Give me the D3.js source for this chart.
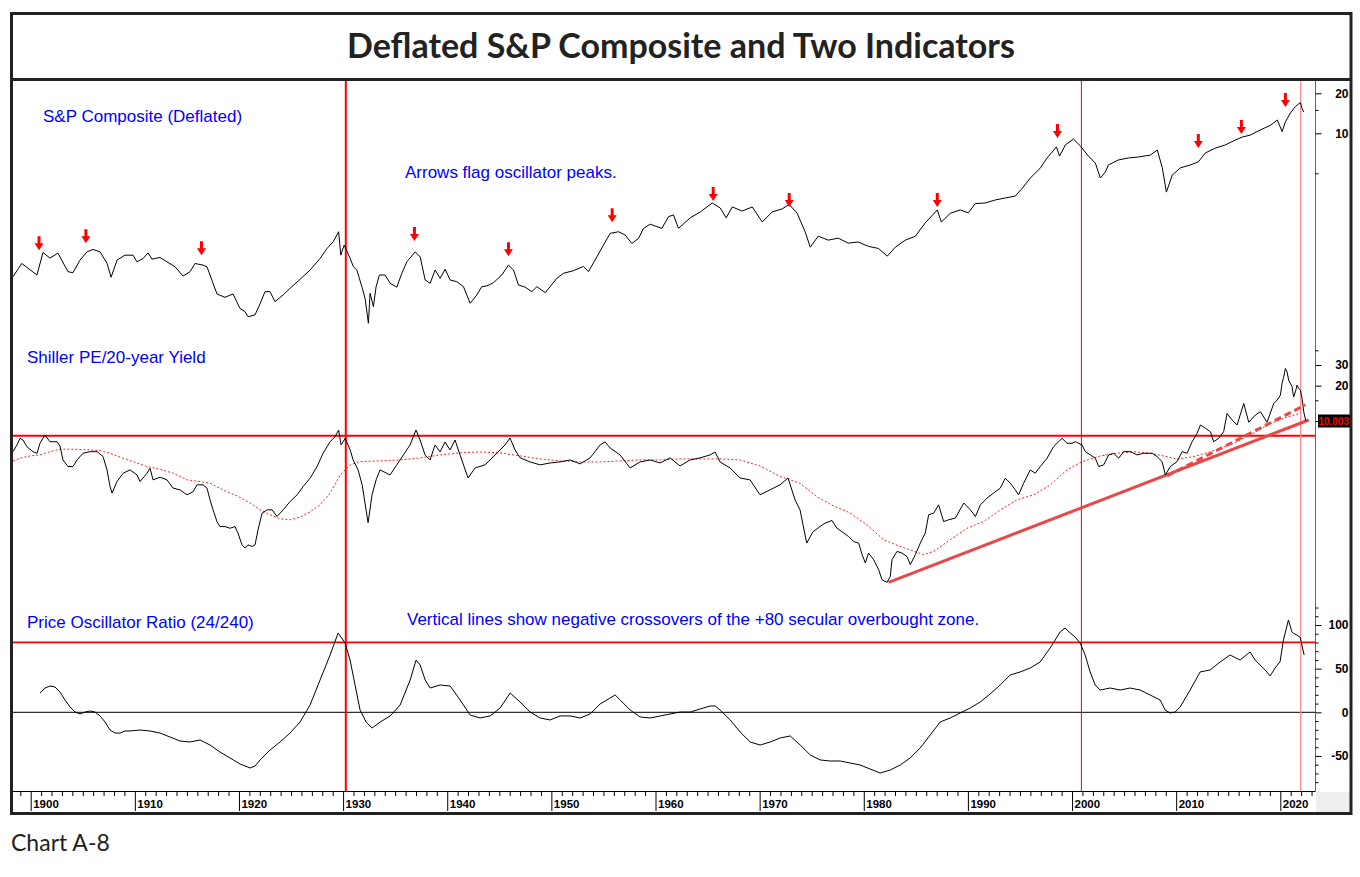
<!DOCTYPE html>
<html>
<head>
<meta charset="utf-8">
<script src="https://cdn.jsdelivr.net/npm/d3@7/dist/d3.min.js"></script>
<style>
body { margin: 0; background: #fff; }
svg { display: block; }
</style>
</head>
<body>
<svg></svg>
<script>
// S&P Composite (deflated), верхняя панель
const spxYears = [1898.3,1899.14,1900.6,1901.18,1901.85,1902.62,1903.58,1904.06,1904.73,1905.41,1905.98,1906.66,1907.33,1907.72,1908.29,1909.06,1909.83,1910.21,1910.79,1911.27,1911.65,1912.42,1913.09,1913.86,1914.63,1915.3,1915.78,1916.55,1916.93,1917.51,1917.89,1918.66,1919.43,1920.1,1920.58,1920.87,1921.54,1922.02,1922.5,1922.98,1923.46,1924.24,1924.91,1925.87,1926.83,1927.79,1928.46,1929.04,1929.57,1929.78,1930.1,1930.68,1930.99,1931.32,1931.8,1932.11,1932.43,1932.59,1932.91,1933.17,1933.49,1934.03,1934.52,1935.16,1935.64,1936.12,1936.92,1937.4,1937.88,1938.36,1938.84,1939.32,1939.8,1940.28,1940.92,1941.56,1942.2,1942.84,1943.32,1943.8,1944.44,1945.24,1945.88,1946.36,1946.84,1947.48,1948.13,1948.61,1949.41,1949.88,1950.53,1951.16,1952.12,1953.08,1953.56,1954.37,1955.0,1955.65,1956.45,1957.09,1957.73,1958.37,1958.85,1959.49,1960.13,1960.61,1961.25,1961.73,1962.21,1963.34,1964.3,1965.45,1966.22,1966.79,1967.37,1968.33,1969.29,1970.25,1971.21,1972.17,1972.84,1973.61,1974.38,1974.86,1975.63,1976.59,1977.55,1978.51,1979.47,1980.44,1981.4,1982.26,1983.03,1983.99,1984.95,1985.91,1987.06,1987.45,1988.31,1989.27,1990.04,1990.71,1991.67,1992.63,1993.59,1994.55,1995.23,1996.0,1996.96,1997.6,1998.1,1998.5,1998.8,1999.36,2000.13,2000.8,2001.57,2002.24,2002.72,2003.2,2003.49,2004.45,2005.41,2006.37,2007.52,2008.19,2008.67,2009.06,2009.63,2010.4,2011.36,2012.13,2012.8,2013.76,2014.72,2015.68,2016.36,2017.12,2018.08,2019.05,2019.72,2020.17,2020.49,2020.97,2021.45,2021.93,2022.09,2022.25];
const spxValues = [0.833,1.048,0.858,1.268,1.15,1.253,0.909,0.893,1.11,1.282,1.336,1.282,1.053,0.825,1.11,1.21,1.21,1.078,1.143,1.259,1.13,1.163,1.078,0.99,0.843,0.909,1.048,1.018,0.99,0.743,0.618,0.583,0.618,0.481,0.455,0.416,0.43,0.52,0.643,0.643,0.541,0.607,0.682,0.797,0.936,1.143,1.36,1.525,1.816,1.21,1.44,1.143,0.99,0.936,0.701,0.573,0.372,0.625,0.496,0.701,0.858,0.858,0.743,0.695,0.884,1.078,1.282,1.175,0.787,0.743,0.936,0.811,0.947,0.787,0.764,0.701,0.526,0.607,0.701,0.71,0.751,0.858,1.018,0.936,0.722,0.695,0.643,0.701,0.632,0.701,0.811,0.884,0.925,0.996,0.909,1.175,1.44,1.766,1.816,1.715,1.482,1.617,1.926,2.07,1.985,1.926,2.36,2.43,1.926,2.31,2.56,2.99,2.74,2.31,2.79,2.6,2.79,2.15,2.56,2.7,2.91,2.5,1.806,1.39,1.683,1.57,1.625,1.49,1.52,1.41,1.36,1.19,1.39,1.57,1.68,2.12,2.65,2.15,2.5,2.65,2.52,2.96,2.99,3.15,3.26,3.37,3.87,4.61,5.49,6.52,7.24,7.9,6.74,8.17,9.05,8.03,6.74,5.97,4.61,5.11,5.78,6.3,6.52,6.63,6.86,7.49,5.49,3.61,4.86,5.49,5.78,6.09,7.11,7.74,8.17,8.9,9.37,9.7,10.59,11.5,12.59,10.3,12.2,14.2,15.9,17.0,15.4,14.5];

// стрелки: пики осциллятора (кончик стрелки)
const arrowYears = [1900.8,1905.3,1916.4,1936.85,1945.88,1955.84,1965.54,1972.84,1987.06,1998.6,2012.13,2016.26,2020.49];
const arrowValues = [1.32,1.49,1.21,1.55,1.19,2.14,3.1,2.79,2.79,9.21,7.75,9.88,15.8];

// Shiller PE / 20-year yield, средняя панель
const peYears = [1898.3,1898.68,1898.97,1899.26,1899.64,1900.22,1900.61,1900.89,1901.37,1901.85,1902.53,1902.81,1903.1,1903.58,1904.06,1904.45,1905.02,1905.7,1906.37,1906.95,1907.33,1907.62,1907.81,1908.29,1908.87,1909.54,1910.21,1910.5,1911.17,1911.46,1911.75,1912.42,1913.09,1913.67,1914.34,1915.01,1915.59,1915.98,1916.55,1916.93,1917.22,1917.51,1917.89,1918.18,1918.66,1919.14,1919.62,1919.9,1920.29,1920.58,1920.87,1921.26,1921.54,1921.83,1922.22,1922.7,1923.18,1923.66,1924.24,1924.91,1925.58,1926.16,1926.83,1927.5,1928.08,1928.75,1929.23,1929.57,1929.81,1930.2,1930.68,1930.96,1931.44,1931.83,1932.4,1932.78,1933.17,1933.55,1934.51,1935.47,1936.43,1937.0,1937.39,1937.87,1938.35,1938.83,1939.31,1939.79,1940.27,1940.75,1941.23,1942.0,1942.67,1943.63,1944.59,1945.55,1946.03,1946.51,1947.0,1947.96,1948.92,1949.88,1950.84,1951.8,1952.76,1953.72,1954.68,1955.16,1955.64,1956.6,1957.56,1958.52,1959.48,1960.44,1961.4,1962.36,1963.32,1964.28,1965.24,1965.72,1966.2,1967.16,1968.12,1969.08,1970.04,1971.0,1971.96,1972.73,1973.4,1973.88,1974.52,1975.13,1975.8,1976.28,1976.95,1977.43,1977.91,1978.55,1979.03,1979.51,1979.84,1980.15,1980.46,1980.95,1981.43,1981.75,1982.23,1982.55,1982.71,1983.19,1983.67,1984.15,1984.47,1984.95,1985.43,1985.91,1986.23,1986.71,1987.19,1987.67,1988.15,1988.8,1989.6,1990.24,1990.72,1991.2,1991.83,1992.46,1993.11,1993.59,1994.07,1994.55,1994.87,1995.35,1995.99,1996.47,1996.95,1997.6,1998.23,1999.04,1999.52,2000.0,2000.32,2000.96,2001.28,2001.76,2002.24,2002.56,2003.04,2003.52,2004.0,2004.48,2004.96,2005.61,2006.25,2006.88,2007.69,2008.17,2008.65,2008.96,2009.44,2010.09,2010.57,2011.05,2011.53,2012.01,2012.33,2012.81,2013.29,2013.6,2014.08,2014.56,2014.89,2015.37,2015.85,2016.49,2016.97,2017.61,2018.09,2018.73,2019.37,2019.7,2020.01,2020.17,2020.33,2020.49,2020.65,2020.8,2021.13,2021.28,2021.45,2021.61,2021.76,2021.93,2022.09,2022.25,2022.45];
const peValues = [5.48,6.25,7.12,6.89,6.04,5.48,5.31,6.46,7.6,6.66,6.66,6.13,4.66,4.09,4.09,4.66,5.31,5.48,5.48,4.97,3.83,2.76,2.43,3.05,3.59,3.83,3.47,3.05,3.59,3.96,3.15,3.32,3.15,2.68,2.59,2.35,2.5,2.86,2.86,2.68,2.13,1.75,1.39,1.26,1.26,1.22,1.26,1.11,0.88,0.827,0.88,0.853,0.88,1.18,1.64,1.75,1.75,1.535,1.75,2.06,2.35,2.76,3.26,4.09,5.31,6.66,7.35,8.38,6.25,7.12,5.67,4.66,3.83,2.86,1.36,2.35,3.15,3.83,3.47,4.66,6.25,8.38,6.89,5.14,4.66,6.25,5.45,6.63,5.67,6.89,5.14,3.27,3.98,4.23,5.14,6.25,7.17,5.67,4.85,4.48,4.23,4.39,4.48,4.66,4.31,4.85,6.25,6.63,5.89,5.14,3.98,4.48,4.66,4.39,4.85,4.14,4.66,4.85,5.14,5.45,4.48,3.98,3.27,3.15,2.35,2.59,2.86,3.27,2.13,1.75,0.912,1.14,1.26,1.35,1.42,1.22,1.14,1.035,0.94,0.912,0.726,0.617,0.75,0.658,0.541,0.445,0.422,0.474,0.658,0.774,0.75,0.7,0.597,0.726,0.912,1.11,1.59,1.64,1.93,1.39,1.44,1.49,2.0,1.75,1.535,1.93,2.2,2.43,2.68,3.26,2.95,2.59,2.35,2.95,3.83,3.59,4.09,4.82,6.04,7.12,6.46,6.46,6.66,6.25,5.48,5.14,4.82,4.09,4.23,5.14,5.31,4.82,5.48,5.48,5.14,5.31,5.31,4.97,4.51,3.47,4.09,4.51,5.48,5.31,6.66,7.85,9.25,8.67,8.1,6.66,7.12,8.1,11.6,10.2,9.25,14.1,9.76,11.25,12.0,9.76,14.1,15.09,16.6,21.0,23.8,28.0,26.2,22.3,19.6,16.0,17.7,20.2,18.96,18.3,15.6,12.0,10.0];

// скользящая средняя (красный пунктир)
const maYears = [1898.3,1898.97,1899.93,1900.89,1901.85,1902.81,1904.06,1905.7,1906.66,1907.62,1908.58,1909.83,1911.17,1912.42,1913.67,1915.01,1916.26,1917.22,1918.47,1919.82,1921.07,1922.02,1922.98,1923.94,1924.91,1925.87,1926.83,1927.79,1928.75,1929.71,1930.68,1931.64,1933.56,1935.47,1937.39,1939.31,1941.23,1943.15,1945.08,1947.0,1948.92,1950.84,1952.76,1954.68,1956.6,1958.52,1960.44,1962.36,1964.28,1966.2,1968.12,1970.04,1971.96,1973.88,1975.48,1977.08,1978.68,1980.28,1981.9,1983.5,1985.74,1986.7,1988.3,1989.91,1991.5,1993.11,1994.71,1996.31,1997.92,1999.52,2000.96,2002.72,2004.33,2005.93,2007.52,2009.13,2010.09,2011.68,2013.29,2015.53,2017.13,2018.73,2020.33,2021.93];
const maValues = [4.57,4.82,5.04,5.14,5.48,5.75,5.75,5.67,5.59,5.31,4.92,4.51,4.09,3.88,3.59,3.15,3.05,2.95,2.59,2.3,2.0,1.75,1.59,1.47,1.44,1.515,1.69,1.93,2.43,3.47,4.23,4.51,4.57,4.66,4.85,5.14,5.35,5.45,5.35,5.04,4.75,4.57,4.48,4.48,4.57,4.66,4.66,4.75,4.75,4.75,4.66,4.14,3.37,2.95,2.27,1.89,1.65,1.31,0.973,0.853,0.726,0.774,0.973,1.22,1.39,1.75,2.13,2.35,2.86,3.83,4.51,5.04,5.31,5.48,5.31,4.97,4.73,4.97,5.48,6.46,7.6,9.25,10.55,11.63];

// линии тренда: [год, значение]
const trendSolid = [[1982.38, 0.4217], [2022.73, 10.2]];
const trendDashed = [[2009.13, 3.41], [2022.41, 13.7]];
const peLevel = 7.5;
const peLast = "10.003";

// Price Oscillator Ratio (24/240), нижняя панель
const oscYears = [1900.89,1901.37,1901.85,1902.33,1902.81,1903.29,1903.78,1904.26,1904.74,1905.22,1905.7,1906.18,1906.66,1907.14,1907.62,1908.1,1908.58,1909.06,1909.54,1910.5,1911.46,1912.42,1913.38,1914.34,1915.3,1916.26,1917.22,1918.18,1919.14,1920.1,1921.07,1921.55,1922.03,1922.99,1923.95,1924.91,1925.87,1926.83,1927.79,1928.75,1929.52,1930.19,1930.67,1931.15,1931.63,1932.21,1932.79,1933.56,1934.52,1935.48,1936.44,1937.01,1937.4,1937.88,1938.36,1939.32,1940.28,1941.24,1942.2,1943.16,1944.12,1945.08,1946.04,1947.0,1947.96,1948.92,1949.88,1950.84,1951.8,1952.76,1953.72,1954.68,1955.65,1956.13,1956.61,1957.57,1958.53,1959.49,1960.45,1961.41,1962.37,1963.33,1964.29,1965.25,1965.73,1966.21,1967.17,1968.13,1969.09,1970.05,1971.01,1971.98,1972.94,1973.9,1974.86,1975.82,1976.78,1977.74,1978.7,1979.66,1980.62,1981.58,1982.54,1983.5,1984.46,1985.42,1986.38,1987.34,1988.3,1989.26,1990.22,1991.18,1992.14,1993.1,1994.06,1995.02,1995.98,1996.94,1997.9,1998.86,1999.34,1999.82,2000.3,2000.78,2001.26,2001.74,2002.22,2002.7,2003.66,2004.62,2005.58,2006.54,2007.5,2008.46,2008.94,2009.42,2009.9,2010.38,2011.34,2012.3,2013.26,2014.22,2015.18,2016.14,2017.1,2017.58,2018.54,2019.02,2019.5,2019.98,2020.3,2020.78,2021.11,2021.26,2021.59,2021.91,2022.07,2022.29];
const oscValues = [22.1,27.8,30.1,29.0,23.3,14.1,6.1,0.3,-1.9,0.3,1.5,0.3,-4.2,-11.1,-20.3,-23.8,-23.8,-21.4,-21.4,-20.3,-21.4,-23.8,-28.3,-32.9,-34.0,-31.7,-37.5,-45.5,-52.3,-59.2,-63.8,-61.5,-54.6,-43.2,-34.0,-23.7,-11.1,8.4,37.0,65.6,90.8,79.4,59.9,31.3,2.6,-11.1,-18.0,-11.1,-4.2,8.4,37.0,59.9,54.2,37.0,27.8,31.3,30.1,14.1,-3.1,-6.5,-4.2,4.9,22.1,11.8,0.3,-6.5,-8.8,-4.2,-4.2,-6.5,-1.9,9.5,16.4,19.8,14.1,2.6,-5.4,-6.5,-4.2,-1.9,0.3,0.3,3.8,7.2,7.2,2.6,-8.8,-22.6,-34.0,-37.5,-34.0,-29.4,-27.1,-37.5,-48.9,-54.6,-55.8,-55.8,-58.1,-60.4,-65.0,-69.6,-66.1,-60.4,-52.3,-40.9,-26.0,-11.1,-6.5,-0.8,4.9,11.8,21.0,31.3,42.7,46.2,50.7,57.6,73.7,92.0,96.6,90.8,86.2,79.4,65.6,46.2,31.3,25.5,27.8,25.5,27.8,25.5,19.8,14.1,2.6,-0.8,0.3,6.1,25.5,46.2,48.5,57.6,65.6,59.9,69.1,59.9,48.5,41.6,50.7,58.0,82.8,105.7,92.3,90.5,88.5,85.9,77.1,65.6];
const oscLevel = 80;

// годы отрицательного пересечения +80
const crossYears = [1930.26, 2000.9, 2021.96];
const crossStyles = [{ c: "#ff0000", w: 2 }, { c: "#ee0000", w: 1 }, { c: "#ff8080", w: 1.2 }];

// подписи осей
const decadeLabels = [1900, 1910, 1920, 1930, 1940, 1950, 1960, 1970, 1980, 1990, 2000, 2010, 2020];
const topTicks = [5, 10, 15, 20];
const topLabels = [10, 20];
const midTicks = [10, 15, 20, 30, 40];
const midLabels = [20, 30];
const botTicks = [-80, -70, -60, -50, -40, -30, -20, -10, 0, 10, 20, 30, 40, 50, 60, 70, 80, 90, 100, 110, 120];
const botLabels = [-50, 0, 50, 100];

document.addEventListener("DOMContentLoaded", function() {
    const width = 1360;
    const height = 877;
    const svg = d3.select("svg")
        .attr("width", width)
        .attr("height", height);

    const left = 13, right = 1315, top = 81, bottom = 791;

    const x = d3.scaleLinear().domain([1900, 2020]).range([30.7, 1280.3]);
    const yTop = d3.scaleLog().domain([5, 20]).range([173.3, 93.3]);
    const yMid = d3.scaleLog().domain([10, 30]).range([421, 365]);
    const yBot = d3.scaleLinear().domain([0, 100]).range([712.3, 625]);

    svg.append("defs").append("clipPath").attr("id", "plot")
        .append("rect").attr("x", left).attr("y", top)
        .attr("width", right - left).attr("height", bottom - top);

    const plot = svg.append("g").attr("clip-path", "url(#plot)");

    // горизонтальные уровни
    plot.append("line").attr("x1", left).attr("x2", right)
        .attr("y1", yMid(peLevel)).attr("y2", yMid(peLevel))
        .attr("stroke", "#ff0000").attr("stroke-width", 2);
    plot.append("line").attr("x1", left).attr("x2", right)
        .attr("y1", yBot(oscLevel)).attr("y2", yBot(oscLevel))
        .attr("stroke", "#ff0000").attr("stroke-width", 1.8);
    plot.append("line").attr("x1", left).attr("x2", right)
        .attr("y1", yBot(0)).attr("y2", yBot(0))
        .attr("stroke", "#000").attr("stroke-width", 1);

    // вертикальные линии
    crossYears.forEach((yr, i) => {
        plot.append("line").attr("x1", x(yr)).attr("x2", x(yr))
            .attr("y1", top).attr("y2", bottom)
            .attr("stroke", crossStyles[i].c).attr("stroke-width", crossStyles[i].w);
    });

    // пунктирная средняя
    const lineMid = d3.line().x(d => x(d[0])).y(d => yMid(d[1]));
    plot.append("path").datum(d3.zip(maYears, maValues))
        .attr("d", lineMid).attr("fill", "none")
        .attr("stroke", "#ff2020").attr("stroke-width", 1).attr("stroke-dasharray", "2,2");

    // линии тренда
    plot.append("path").datum(trendSolid).attr("d", lineMid)
        .attr("fill", "none").attr("stroke", "#e84848").attr("stroke-width", 3);
    plot.append("path").datum(trendDashed).attr("d", lineMid)
        .attr("fill", "none").attr("stroke", "#e84848").attr("stroke-width", 3)
        .attr("stroke-dasharray", "7,4");

    // ряды
    plot.append("path").datum(d3.zip(spxYears, spxValues))
        .attr("d", d3.line().x(d => x(d[0])).y(d => yTop(d[1])))
        .attr("fill", "none").attr("stroke", "#000").attr("stroke-width", 1);
    plot.append("path").datum(d3.zip(peYears, peValues))
        .attr("d", lineMid)
        .attr("fill", "none").attr("stroke", "#000").attr("stroke-width", 1);
    plot.append("path").datum(d3.zip(oscYears, oscValues))
        .attr("d", d3.line().x(d => x(d[0])).y(d => yBot(d[1])))
        .attr("fill", "none").attr("stroke", "#000").attr("stroke-width", 1);

    // стрелки
    plot.selectAll(".arrow").data(d3.zip(arrowYears, arrowValues)).join("path")
        .attr("class", "arrow")
        .attr("transform", d => `translate(${x(d[0])},${yTop(d[1])})`)
        .attr("d", "M0,0L-4.5,-7L-1.5,-7L-1.5,-14L1.5,-14L1.5,-7L4.5,-7Z")
        .attr("fill", "#ff0000");

    // подписи панелей
    const blue = "#0000ff";
    const notes = [
        ["S&P Composite (Deflated)", 43, 122],
        ["Arrows flag oscillator peaks.", 405, 178],
        ["Shiller PE/20-year Yield", 27, 363],
        ["Price Oscillator Ratio (24/240)", 27, 628],
        ["Vertical lines show negative crossovers of the +80 secular overbought zone.", 407, 625]
    ];
    svg.selectAll(".note").data(notes).join("text")
        .attr("class", "note")
        .attr("x", d => d[1]).attr("y", d => d[2])
        .attr("fill", blue)
        .style("font", "17px Arial, 'Liberation Sans', sans-serif")
        .text(d => d[0]);

    // правая ось
    svg.append("line").attr("x1", right + 0.5).attr("x2", right + 0.5)
        .attr("y1", top).attr("y2", bottom).attr("stroke", "#666");

    function rightAxis(scale, ticks, labels) {
        const g = svg.append("g").attr("transform", `translate(${right + 0.5},0)`)
            .call(d3.axisRight(scale).tickValues(ticks).tickSize(3)
                .tickFormat(d => labels.includes(d) ? d : ""));
        g.select(".domain").remove();
        g.selectAll(".tick line").attr("x2", d => labels.includes(d) ? 6 : 3);
        g.selectAll(".tick text").attr("x", 33).attr("text-anchor", "end")
            .style("font", "bold 12px Arial, 'Liberation Sans', sans-serif").attr("fill", "#000");
    }
    rightAxis(yTop, topTicks, topLabels);
    rightAxis(yMid, midTicks, midLabels);
    rightAxis(yBot, botTicks, botLabels);

    // последнее значение
    svg.append("rect").attr("x", 1318).attr("y", yMid(10) - 6.5)
        .attr("width", 33).attr("height", 13).attr("fill", "#000");
    svg.append("text").attr("x", 1349).attr("y", yMid(10) + 4)
        .attr("text-anchor", "end").attr("fill", "#ff0000")
        .style("font", "bold 10px Arial, 'Liberation Sans', sans-serif")
        .text(peLast);

    // ось времени
    svg.append("rect").attr("x", right + 1).attr("y", bottom + 1)
        .attr("width", 1350 - right - 1).attr("height", 20).attr("fill", "#eeeeee");
    const gx = svg.append("g").attr("transform", `translate(0,${bottom})`)
        .call(d3.axisBottom(x).tickValues(d3.range(1899, 2024)).tickSize(5)
            .tickFormat(d => decadeLabels.includes(d) ? d : ""));
    gx.select(".domain").remove();
    gx.selectAll(".tick line").attr("y2", d => decadeLabels.includes(d) ? 20 : 5).attr("stroke", "#000");
    gx.selectAll(".tick text").attr("x", 2).attr("y", 17).attr("dy", null)
        .attr("text-anchor", "start").attr("fill", "#000")
        .style("font", "bold 11.5px Arial, 'Liberation Sans', sans-serif");
    svg.append("line").attr("x1", left).attr("x2", right + 0.5)
        .attr("y1", bottom + 0.5).attr("y2", bottom + 0.5).attr("stroke", "#000");

    // рамка и заголовок
    svg.append("rect").attr("x", 11.5).attr("y", 13.5)
        .attr("width", 1339.5).attr("height", 800)
        .attr("fill", "none").attr("stroke", "#222").attr("stroke-width", 3);
    svg.append("line").attr("x1", 11.5).attr("x2", 1351)
        .attr("y1", 79.5).attr("y2", 79.5)
        .attr("stroke", "#222").attr("stroke-width", 3);
    svg.append("text").attr("x", 681).attr("y", 58)
        .attr("text-anchor", "middle").attr("fill", "#222")
        .style("font", "bold 34px Lato, sans-serif")
        .text("Deflated S&P Composite and Two Indicators");
    svg.append("text").attr("x", 11).attr("y", 851)
        .attr("fill", "#222")
        .style("font", "23px Lato, sans-serif")
        .text("Chart A-8");
});
</script>
</body>
</html>
